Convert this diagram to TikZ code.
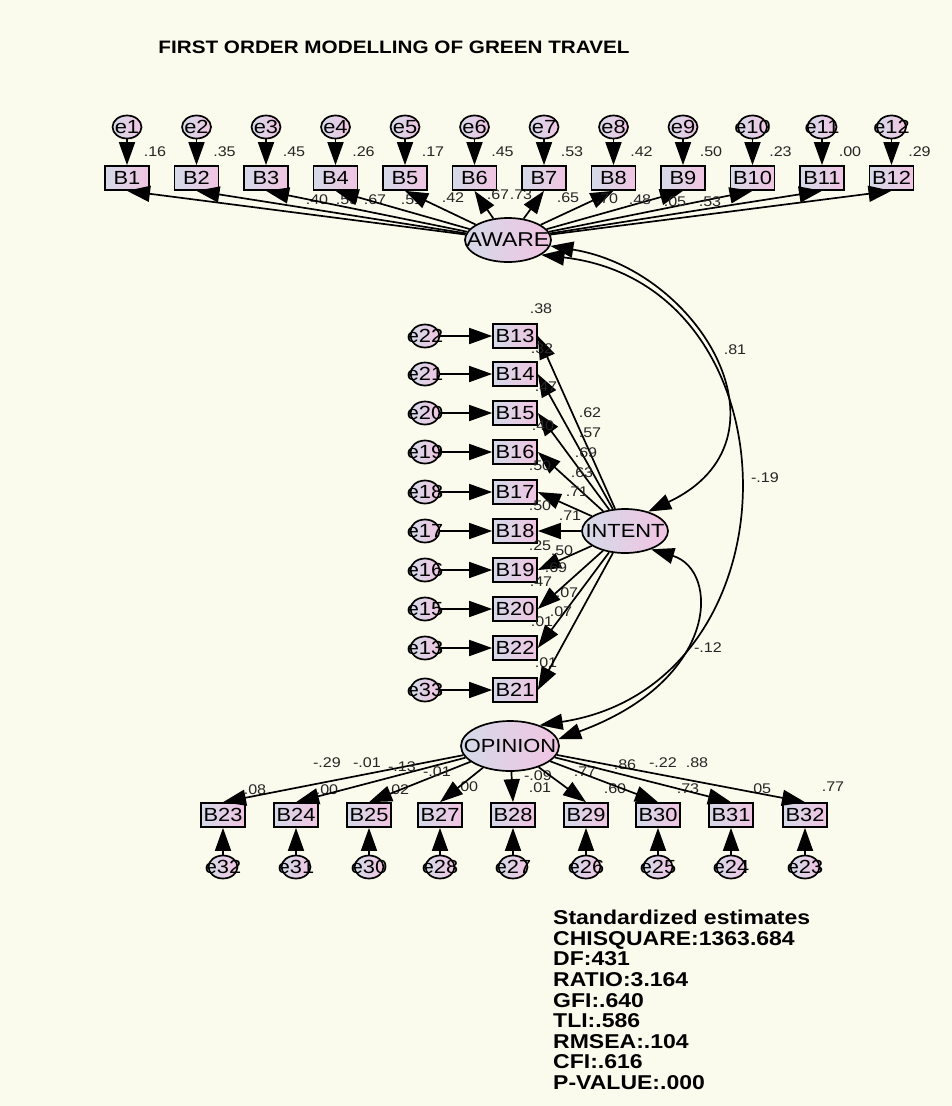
\documentclass[tikz,border=0pt]{standalone}
\usepackage{fontspec}
\newfontfamily\amos[FakeStretch=1.15]{Liberation Sans}
\usepackage{tikz}
\usetikzlibrary{shapes.geometric, arrows.meta}

\definecolor{nen}{RGB}{251,251,237}
\definecolor{xanh}{RGB}{212,218,232}
\definecolor{hong}{RGB}{241,196,226}
\newcommand{\zw}[1]{\makebox[0pt]{#1}}

\tikzset{
  obs/.style={draw, line width=1.7pt, rectangle, minimum width=44, minimum height=24,
    inner sep=0pt, left color=xanh, right color=hong, font=\amos\fontsize{19}{19}\selectfont},
  err/.style={draw, line width=1.7pt, ellipse, minimum width=29, minimum height=23,
    inner sep=0pt, left color=xanh, right color=hong, font=\amos\fontsize{19}{19}\selectfont},
  lat/.style={draw, line width=1.7pt, ellipse, minimum width=86, minimum height=44,
    inner sep=0pt, left color=xanh, right color=hong, font=\amos\fontsize{19}{19}\selectfont},
  coef/.style={inner sep=0pt, text=black!85, font=\amos\fontsize{14}{14}\selectfont},
  duong/.style={->, line width=1.7pt},
  hiepbien/.style={<->, line width=1.7pt},
}

\begin{document}
\begin{tikzpicture}[x=1pt, y=-1pt, >={Triangle[length=23pt, width=16pt]}]
            % Nền
            \fill[nen] (0,0) rectangle (952,1106);
            \useasboundingbox (0,0) rectangle (952,1106);
            
            % Tiêu đề
            \node[font=\amos\bfseries\fontsize{18}{18}\selectfont] (tieude) at (394,47) {FIRST ORDER MODELLING OF GREEN TRAVEL};
            
            % Nhân tố AWARE (hàng trên)
            \node[lat, font=\amos\fontsize{20}{20}\selectfont] (AWARE) at (508,240) {\zw{AWARE}};
            \foreach \i/\rsq/\lam/\lx/\ly in {1/.16/.40/317/200, 2/.35/.59/347/200, 3/.45/.67/375/200,
                4/.26/.51/412/200, 5/.17/.42/453/198, 6/.45/.67/498/195, 7/.53/.73/521/195,
                8/.42/.65/568/198, 9/.50/.70/607/199, 10/.23/.48/640/200, 11/.00/.05/675/202,
                12/.29/.53/710/202} {
                \pgfmathsetmacro\xx{127+(\i-1)*69.5}
                \node[err] (e\i) at (\xx,127) {\zw{e\i}};
                \node[obs] (B\i) at (\xx,178) {B\i};
                \node[coef] (r\i) at (\xx+28,152) {\rsq};
                \node[coef] (l\i) at (\lx,\ly) {\lam};
                \draw[duong] (e\i) -- (B\i);
                \draw[duong] (AWARE) -- (B\i.south);
            }
            
            % Nhân tố INTENT (cột giữa)
            \node[lat] (INTENT) at (625,531) {\zw{INTENT}};
            \foreach \b/\e/\yy/\rsq/\rx/\ry/\lam/\lx/\ly in {13/22/336/.38/541/309/.62/590/413,
                14/21/374/.32/542/349/.57/590/433, 15/20/413/.47/546/387/.69/586/453,
                16/19/452/.40/543/426/.63/582/473, 17/18/492/.50/540/466/.71/577/492,
                18/17/531/.50/540/506/.71/570/516, 19/16/570/.25/540/546/.50/562/551,
                20/15/609/.47/541/582/.69/556/568, 22/13/648/.01/542/622/.07/567/593,
                21/33/690/.01/546/663/.07/561/612} {
                \node[err] (e\e) at (425,\yy) {\zw{e\e}};
                \node[obs] (B\b) at (515,\yy) {B\b};
                \node[coef] (r\b) at (\rx,\ry) {\rsq};
                \node[coef] (l\b) at (\lx,\ly) {\lam};
                \draw[duong] (e\e) -- (B\b);
                \draw[duong] (INTENT) -- (B\b.east);
            }
            
            % Nhân tố OPINION (hàng dưới)
            \node[lat, minimum width=98, minimum height=50] (OPINION) at (510,746) {\zw{OPINION}};
            \foreach \b/\e/\xx/\lam/\lx/\ly/\rsq/\rx/\ry in {23/32/223/-.29/327/763/.08/255/790,
                24/31/296/-.01/367/763/.00/327/790, 25/30/369/-.13/402/767/.02/398/790,
                27/28/440/-.01/437/772/.00/467/787, 28/27/513/-.09/538/776/.01/540/788,
                29/26/586/.77/585/772/.60/615/789, 30/25/658/.86/625/765/.73/688/789,
                31/24/731/-.22/663/763/.05/760/789, 32/23/805/.88/697/763/.77/833/787} {
                \node[obs] (B\b) at (\xx,815) {B\b};
                \node[err] (e\e) at (\xx,867) {\zw{e\e}};
                \node[coef] (r\b) at (\rx,\ry) {\rsq};
                \node[coef] (l\b) at (\lx,\ly) {\lam};
                \draw[duong] (e\e) -- (B\b);
                \draw[duong] (OPINION) -- (B\b.north);
            }
            
            % Hiệp phương sai giữa các nhân tố
            \draw[hiepbien] (AWARE.-8) .. controls (700,270) and (800,440) .. (INTENT.40);
            \draw[hiepbien] (AWARE.-24) .. controls (803,285) and (803,685) .. (OPINION.35);
            \draw[hiepbien] (INTENT.-35) .. controls (720,570) and (720,680) .. (OPINION.8);
            \node[coef] (c1) at (735,350) {.81};
            \node[coef] (c2) at (765,478) {-.19};
            \node[coef] (c3) at (708,648) {-.12};
            
            % Chỉ số phù hợp
            \node[anchor=north west, align=left, inner sep=0pt, font=\amos\bfseries\fontsize{20}{20.6}\selectfont] (chiso) at (553,910) {Standardized estimates\\CHISQUARE:1363.684\\DF:431\\RATIO:3.164\\GFI:.640\\TLI:.586\\RMSEA:.104\\CFI:.616\\P-VALUE:.000};
        \end{tikzpicture}
\end{document}
